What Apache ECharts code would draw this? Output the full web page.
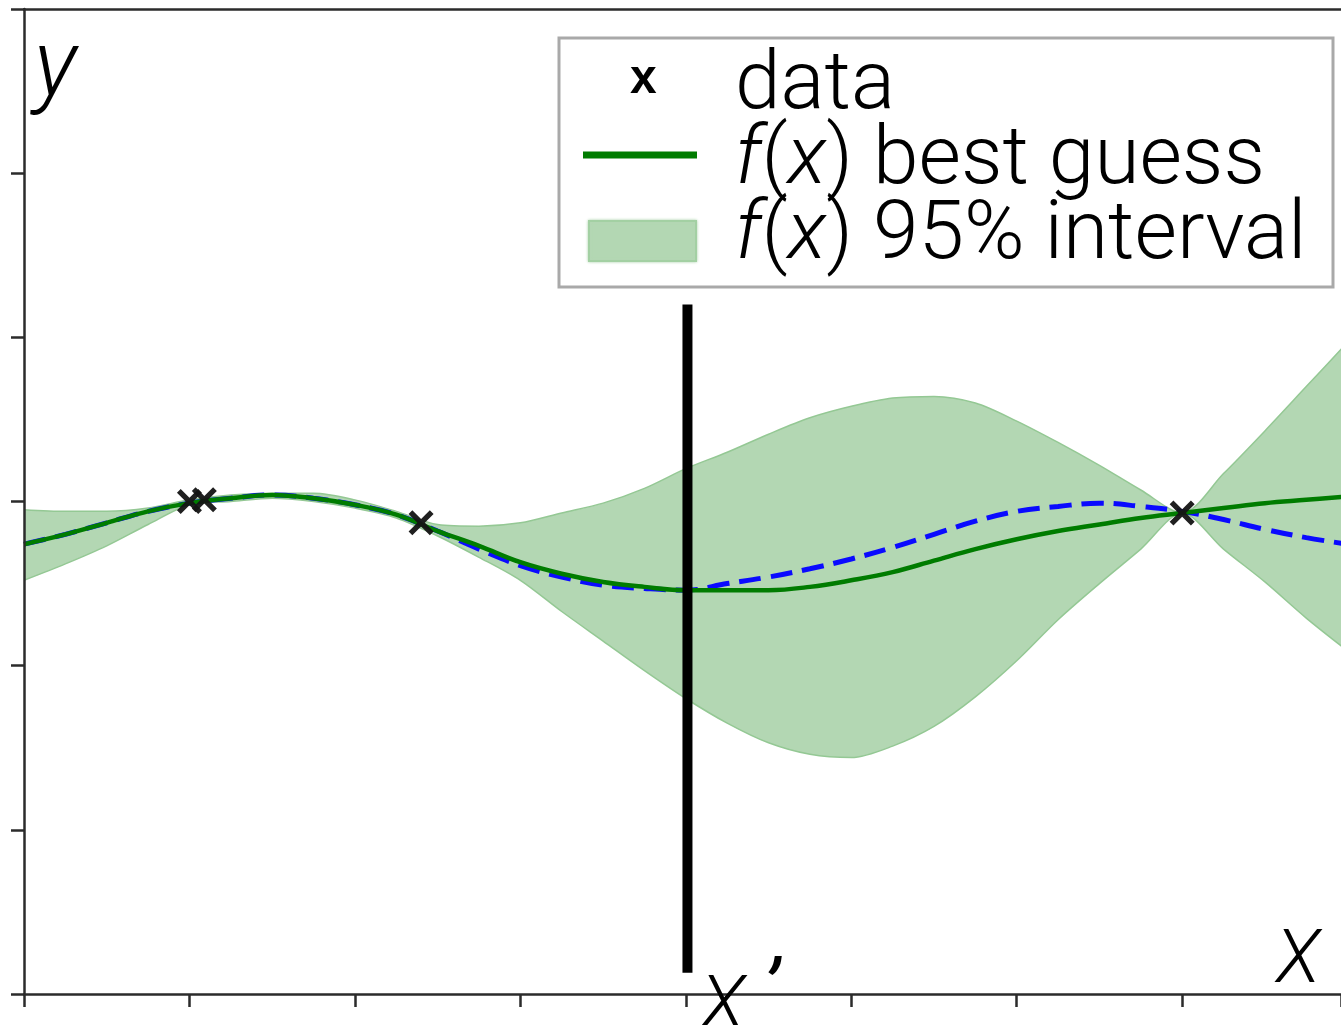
<!DOCTYPE html>
<html>
<head>
<meta charset="utf-8">
<title>GP best guess</title>
<script src="https://cdn.jsdelivr.net/npm/echarts@6/dist/echarts.min.js"></script>
<style>
html, body { margin: 0; padding: 0; background: #fff; }
#main { width: 1341px; height: 1025px; }
</style>
</head>
<body>
<div id="main"></div>
<script>
// sample positions along x (axis units, one tick = 1)
var xs = [0, 0.25, 0.5, 0.75, 1, 1.25, 1.5, 1.75, 2, 2.25, 2.5, 2.75, 3, 3.25, 3.5, 3.75,
          4, 4.25, 4.5, 4.75, 5, 5.25, 5.5, 5.75, 6, 6.25, 6.5, 6.75, 7, 7.25, 7.5, 7.75, 8];
// f(x) best guess (green)
var meanY = [2.74, 2.80, 2.87, 2.94, 2.99, 3.02, 3.04, 3.02, 2.98, 2.92, 2.82, 2.73, 2.63, 2.56, 2.51, 2.48,
             2.46, 2.46, 2.46, 2.48, 2.52, 2.57, 2.64, 2.71, 2.77, 2.82, 2.86, 2.90, 2.93, 2.96, 2.99, 3.01, 3.03];
// true function (blue dashed)
var trueY = [2.74, 2.80, 2.87, 2.94, 2.99, 3.02, 3.04, 3.02, 2.98, 2.92, 2.82, 2.71, 2.61, 2.54, 2.49, 2.47,
             2.46, 2.50, 2.54, 2.59, 2.65, 2.72, 2.80, 2.88, 2.94, 2.97, 2.99, 2.97, 2.94, 2.89, 2.83, 2.78, 2.74];
// 95% interval
var upperY = [2.95, 2.94, 2.94, 2.96, 3.01, 3.04, 3.05, 3.05, 3.01, 2.94, 2.86, 2.85, 2.87, 2.93, 2.99, 3.08,
              3.20, 3.30, 3.41, 3.51, 3.58, 3.63, 3.64, 3.60, 3.49, 3.36, 3.22, 3.07, 2.93, 3.17, 3.43, 3.70, 3.97];
var lowerY = [2.52, 2.62, 2.73, 2.86, 2.98, 3.00, 3.02, 3.00, 2.96, 2.90, 2.79, 2.66, 2.52, 2.33, 2.15, 1.97,
              1.80, 1.65, 1.53, 1.46, 1.44, 1.51, 1.63, 1.81, 2.03, 2.28, 2.50, 2.71, 2.93, 2.71, 2.51, 2.29, 2.09];
// observed data
var dataX = [1.00, 1.09, 2.40, 7.00];
var dataY = [3.00, 3.01, 2.87, 2.93];
// the x' marker line
var xPrime = 4.01;
var xPrimeY = [0.13, 4.20];

function pairs(a, b) {
  var out = [];
  for (var i = 0; i < a.length; i++) out.push([a[i], b[i]]);
  return out;
}

var font = 'Roboto, "Liberation Sans", sans-serif';
var axisCol = '#2b2b2b';
var bandCol = '#b3d7b3';
var edgeCol = '#94c894';
var crossPath = 'path://M0,3L3,0L10,7L17,0L20,3L13,10L20,17L17,20L10,13L3,20L0,17L7,10Z';

var axisCommon = {
  z: 50,
  axisLine: { show: true, onZero: false, lineStyle: { color: axisCol, width: 2.5 } },
  axisTick: { show: true, inside: false, length: 13, lineStyle: { color: axisCol, width: 2.5 } },
  axisLabel: { show: false },
  splitLine: { show: false }
};

var chart = echarts.init(document.getElementById('main'));
chart.setOption({
  animation: false,
  backgroundColor: '#fff',
  grid: { left: 24, top: 9, right: 0, bottom: 31 },
  xAxis: [
    Object.assign({ type: 'value', min: 0, max: 7.96, interval: 1 }, axisCommon),
    // top spine only
    {
      type: 'value', position: 'top', min: 0, max: 7.96, z: 50,
      axisLine: { show: true, onZero: false, lineStyle: { color: axisCol, width: 2.5 } },
      axisTick: { show: false }, axisLabel: { show: false }, splitLine: { show: false }
    }
  ],
  yAxis: Object.assign({ type: 'value', min: 0, max: 6, interval: 1 }, axisCommon),
  series: [
    {
      // upper edge of the band, filled down to the axis
      name: 'f(x) 95% interval', type: 'line', data: pairs(xs, upperY), smooth: 0.3, symbol: 'none',
      lineStyle: { color: edgeCol, width: 1.5 },
      areaStyle: { color: bandCol, opacity: 1, origin: 'start' }, z: 1
    },
    {
      // lower edge, white below it to cut the band out
      name: 'lower', type: 'line', data: pairs(xs, lowerY), smooth: 0.3, symbol: 'none',
      lineStyle: { color: edgeCol, width: 1.5 },
      areaStyle: { color: '#fff', opacity: 1, origin: 'start' }, z: 2
    },
    {
      name: 'true', type: 'line', data: pairs(xs, trueY), smooth: 0.4, symbol: 'none',
      lineStyle: { color: '#0a0aff', width: 5, type: [22, 10] }, z: 3
    },
    {
      name: 'f(x) best guess', type: 'line', data: pairs(xs, meanY), smooth: 0.4, symbol: 'none',
      lineStyle: { color: '#007c00', width: 4.5 }, z: 4
    },
    {
      name: 'data', type: 'scatter', data: pairs(dataX, dataY),
      symbol: crossPath, symbolSize: 25,
      itemStyle: { color: '#141414', opacity: 0.95 }, z: 5
    },
    {
      name: "x'", type: 'line', data: [[xPrime, xPrimeY[0]], [xPrime, xPrimeY[1]]],
      symbol: 'none', lineStyle: { color: '#000', width: 10 }, z: 6
    }
  ],
  graphic: [
    { type: 'text', z: 100, left: 34, top: 26,
      style: { text: 'y', font: 'italic 300 92px ' + font, fill: '#000' } },
    { type: 'text', z: 100, left: 1276, top: 926,
      style: { text: 'X', font: 'italic 300 74px ' + font, fill: '#000' } },
    { type: 'text', z: 100, left: 701, top: 972,
      style: { text: 'X', font: 'italic 300 74px ' + font, fill: '#000' } },
    { type: 'text', z: 100, left: 763, top: 956,
      style: { text: '\u2019', font: 'italic 400 80px ' + font, fill: '#000' } },
    // legend
    { type: 'rect', z: 100, shape: { x: 559, y: 38, width: 774, height: 249 },
      style: { fill: '#fff', stroke: '#a9a9a9', lineWidth: 3 } },
    { type: 'text', z: 101, left: 630, top: 56,
      style: { text: 'x', font: 'bold 48px "Liberation Sans", sans-serif', fill: '#000' } },
    { type: 'line', z: 101, shape: { x1: 583, y1: 155, x2: 697, y2: 155 },
      style: { stroke: '#007c00', lineWidth: 7 } },
    { type: 'rect', z: 101, shape: { x: 589, y: 221, width: 107, height: 40 },
      style: { fill: bandCol, stroke: '#a3d0a3', lineWidth: 2, shadowBlur: 3, shadowColor: bandCol } },
    { type: 'text', z: 101, left: 735, top: 46,
      style: { text: 'data', font: '300 82px ' + font, fill: '#000' } },
    { type: 'text', z: 101, left: 735, top: 121,
      style: {
        text: '{i|f}({i|x}) best guess', font: '300 82px ' + font, fill: '#000',
        rich: { i: { font: 'italic 300 82px ' + font, fill: '#000' } }
      } },
    { type: 'text', z: 101, left: 735, top: 196,
      style: {
        text: '{i|f}({i|x}) 95% interval', font: '300 82px ' + font, fill: '#000',
        rich: { i: { font: 'italic 300 82px ' + font, fill: '#000' } }
      } }
  ]
});
</script>
</body>
</html>
